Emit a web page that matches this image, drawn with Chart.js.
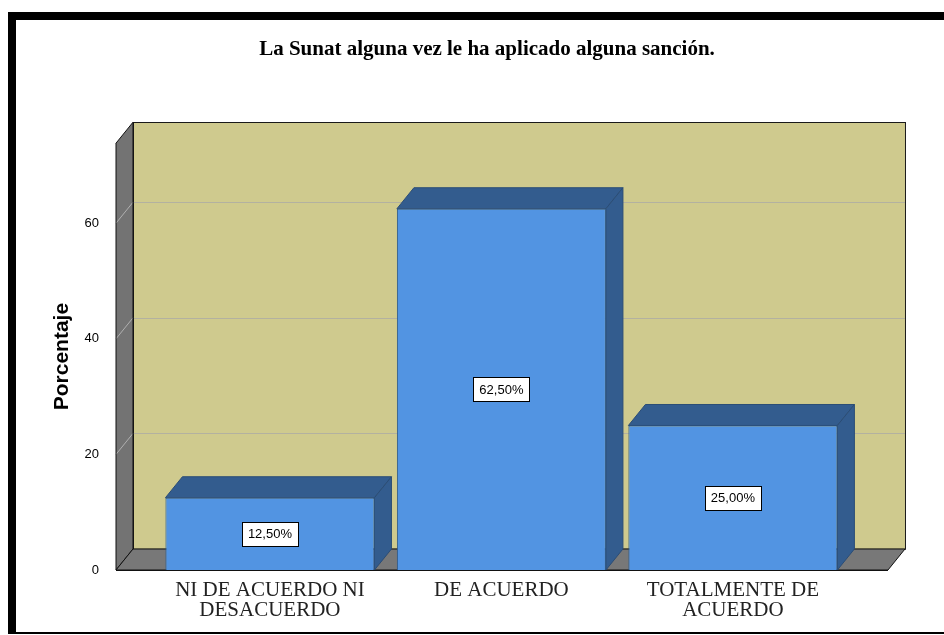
<!DOCTYPE html>
<html>
<head>
<meta charset="utf-8">
<script src="https://cdn.jsdelivr.net/npm/chart.js@4"></script>
<style>
html,body{margin:0;padding:0;background:#fff;}
canvas{display:block;}
</style>
</head>
<body>
<canvas id="c" width="944" height="635"></canvas>
<script>
// ---- data ----
const chartTitle = "La Sunat alguna vez le ha aplicado alguna sanción.";
const categories = [["NI DE ACUERDO NI", "DESACUERDO"], ["DE ACUERDO"], ["TOTALMENTE DE", "ACUERDO"]];
const percentages = [12.5, 62.5, 25.0];
const valueLabels = ["12,50%", "62,50%", "25,00%"];
const yTicks = [0, 20, 40, 60];
const yAxisTitle = "Porcentaje";

// ---- style constants ----
const DX = 17, DY = 21;
const X_MIN = -0.665, WALL_RIGHT = 2.67, X_MAX = 2.912;
const Y_MAX = 73.84;

const threeD = {
  id: 'threeD',
  beforeDraw(chart) {
    const ctx = chart.ctx;
    ctx.save();
    ctx.fillStyle = '#fff';
    ctx.fillRect(0, 0, chart.width, chart.height);
    ctx.restore();
  },
  beforeDatasetsDraw(chart) {
    const {ctx, scales: {x, y}} = chart;
    const L = x.getPixelForValue(X_MIN);
    const R = x.getPixelForValue(WALL_RIGHT);
    const T = y.getPixelForValue(Y_MAX);
    const B = y.getPixelForValue(0);
    ctx.save();
    ctx.lineWidth = 1;
    // back wall
    ctx.fillStyle = '#CFCA8E';
    ctx.fillRect(L + DX, T - DY, R - L, B - T);
    // back gridlines
    ctx.strokeStyle = '#B3B1A0';
    yTicks.forEach(v => {
      if (v === 0) return;
      const py = Math.round(y.getPixelForValue(v) - DY) + 0.5;
      ctx.beginPath();
      ctx.moveTo(L + DX, py);
      ctx.lineTo(R + DX, py);
      ctx.stroke();
    });
    ctx.strokeStyle = '#1a1a1a';
    ctx.strokeRect(Math.round(L + DX) + 0.5, Math.round(T - DY) + 0.5, R - L, B - T);
    // left wall
    ctx.beginPath();
    ctx.moveTo(L, T);
    ctx.lineTo(L + DX, T - DY);
    ctx.lineTo(L + DX, B - DY);
    ctx.lineTo(L, B);
    ctx.closePath();
    ctx.fillStyle = '#737373';
    ctx.fill();
    ctx.strokeStyle = '#B0B0B0';
    yTicks.forEach(v => {
      if (v === 0) return;
      const py = y.getPixelForValue(v);
      ctx.beginPath();
      ctx.moveTo(L, py);
      ctx.lineTo(L + DX, py - DY);
      ctx.stroke();
    });
    ctx.strokeStyle = '#111';
    ctx.beginPath();
    ctx.moveTo(L, T);
    ctx.lineTo(L + DX, T - DY);
    ctx.lineTo(L + DX, B - DY);
    ctx.lineTo(L, B);
    ctx.closePath();
    ctx.stroke();
    // floor
    ctx.beginPath();
    ctx.moveTo(L, B);
    ctx.lineTo(L + DX, B - DY);
    ctx.lineTo(R + DX, B - DY);
    ctx.lineTo(R, B);
    ctx.closePath();
    ctx.fillStyle = '#787878';
    ctx.fill();
    ctx.strokeStyle = '#111';
    ctx.stroke();
    // bar top & side faces
    const meta = chart.getDatasetMeta(0);
    meta.data.forEach(bar => {
      const l = bar.x - bar.width / 2, r = bar.x + bar.width / 2;
      const t = bar.y, b = bar.base;
      ctx.fillStyle = '#335C8E';
      ctx.strokeStyle = '#2B4D76';
      ctx.beginPath();
      ctx.moveTo(l, t);
      ctx.lineTo(l + DX, t - DY);
      ctx.lineTo(r + DX, t - DY);
      ctx.lineTo(r, t);
      ctx.closePath();
      ctx.fill(); ctx.stroke();
      ctx.beginPath();
      ctx.moveTo(r, t);
      ctx.lineTo(r + DX, t - DY);
      ctx.lineTo(r + DX, b - DY);
      ctx.lineTo(r, b);
      ctx.closePath();
      ctx.fill(); ctx.stroke();
    });
    ctx.restore();
  },
  afterDatasetsDraw(chart) {
    const {ctx, scales: {x, y}} = chart;
    const L = x.getPixelForValue(X_MIN);
    const R = x.getPixelForValue(WALL_RIGHT);
    const B = y.getPixelForValue(0);
    ctx.save();
    ctx.strokeStyle = '#111';
    ctx.lineWidth = 1;
    ctx.beginPath();
    ctx.moveTo(L, Math.round(B) + 0.5);
    ctx.lineTo(R, Math.round(B) + 0.5);
    ctx.stroke();
    // value labels
    const meta = chart.getDatasetMeta(0);
    ctx.font = '13px Arial, "Liberation Sans", sans-serif';
    ctx.textAlign = 'center';
    ctx.textBaseline = 'middle';
    meta.data.forEach((bar, i) => {
      const txt = valueLabels[i];
      const cx = bar.x, cy = (bar.y + bar.base) / 2;
      const w = Math.round(ctx.measureText(txt).width + 12), h = 24;
      const bx = Math.round(cx - w / 2) + 0.5, by = Math.round(cy - h / 2) + 0.5;
      ctx.fillStyle = '#fff';
      ctx.fillRect(bx, by, w, h);
      ctx.strokeStyle = '#000';
      ctx.strokeRect(bx, by, w, h);
      ctx.fillStyle = '#000';
      ctx.fillText(txt, cx, cy + 1);
    });
    ctx.restore();
  },
  afterDraw(chart) {
    const ctx = chart.ctx;
    ctx.save();
    ctx.fillStyle = '#000';
    ctx.fillRect(8, 12, chart.width - 8, 8);
    ctx.fillRect(8, 12, 8, 622);
    ctx.fillRect(8, 632, chart.width - 8, 2);
    ctx.restore();
  }
};

new Chart(document.getElementById('c'), {
  type: 'bar',
  data: {
    datasets: [{
      data: percentages.map((v, i) => ({x: i, y: v})),
      backgroundColor: '#5294E2',
      borderColor: '#2E5A8A',
      borderWidth: 1,
      categoryPercentage: 1.0,
      barPercentage: 0.903
    }]
  },
  options: {
    responsive: false,
    animation: false,
    devicePixelRatio: 1,
    layout: {padding: {left: 30, right: 0, top: 0, bottom: 0}},
    plugins: {
      legend: {display: false},
      tooltip: {enabled: false},
      title: {
        display: true,
        text: chartTitle,
        color: '#000',
        font: {family: '"Liberation Serif", "Times New Roman", serif', size: 21, weight: 'bold'},
        padding: {top: 37, bottom: 81}
      }
    },
    scales: {
      x: {
        type: 'linear',
        offset: false,
        min: X_MIN,
        max: X_MAX,
        grid: {display: false},
        border: {display: false},
        afterBuildTicks(scale) { scale.ticks = categories.map((c, i) => ({value: i})); },
        afterFit(scale) { scale.height = 65; },
        ticks: {
          autoSkip: false,
          maxRotation: 0,
          minRotation: 0,
          padding: 3,
          color: '#222',
          font: {family: '"Liberation Serif", "Times New Roman", serif', size: 21, lineHeight: 0.95},
          callback: (v) => categories[v]
        }
      },
      y: {
        min: 0,
        max: Y_MAX,
        grid: {display: false},
        border: {display: false},
        afterBuildTicks(scale) { scale.ticks = yTicks.map(v => ({value: v})); },
        afterFit(scale) { scale.width = 86; },
        ticks: {
          padding: 9,
          color: '#000',
          font: {family: 'Arial, "Liberation Sans", sans-serif', size: 13}
        },
        title: {
          display: true,
          text: yAxisTitle,
          color: '#000',
          font: {family: 'Arial, "Liberation Sans", sans-serif', size: 21, weight: 'bold'},
          padding: {top: 20, bottom: 0}
        }
      }
    }
  },
  plugins: [threeD]
});
</script>
</body>
</html>
